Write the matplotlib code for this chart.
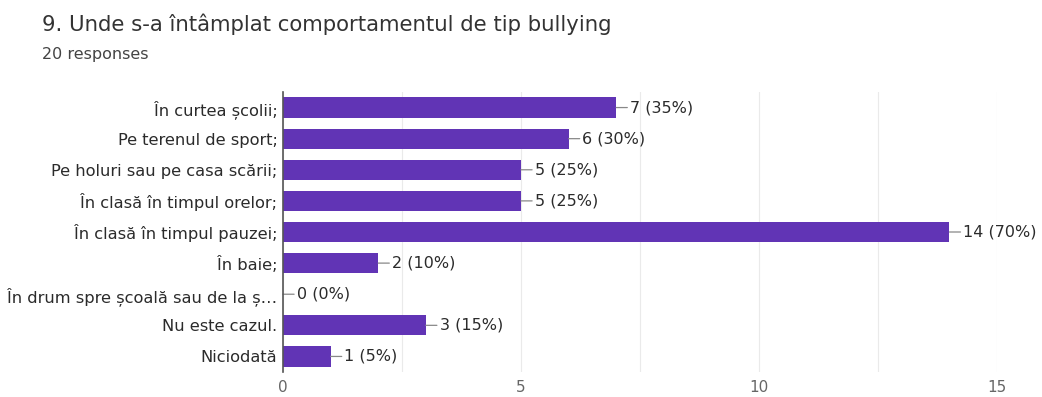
import matplotlib.pyplot as plt
from matplotlib.ticker import MultipleLocator

categories = [
    "În curtea școlii;",
    "Pe terenul de sport;",
    "Pe holuri sau pe casa scării;",
    "În clasă în timpul orelor;",
    "În clasă în timpul pauzei;",
    "În baie;",
    "În drum spre școală sau de la ș…",
    "Nu este cazul.",
    "Niciodată",
]
counts = [7, 6, 5, 5, 14, 2, 0, 3, 1]
percents = [35, 30, 25, 25, 70, 10, 0, 15, 5]
xticks = [0, 5, 10, 15]

plt.rcParams['font.family'] = ['DejaVu Sans']

fig = plt.figure(figsize=(10.42, 3.97), dpi=100)
ax = fig.add_axes([283 / 1042, 1 - 372 / 397, (997 - 283) / 1042, (372 - 92) / 397])

bar_color = '#6134b5'
ypos = list(range(len(categories)))
ax.barh(ypos, counts, height=0.65, color=bar_color, zorder=3)
ax.set_ylim(len(categories) - 0.5, -0.5)
ax.set_xlim(0, 15)

ax.set_yticks(ypos)
ax.set_yticklabels(categories, fontsize=11.7, color='#2b2b2b')
ax.set_xticks(xticks)
ax.set_xticklabels([str(t) for t in xticks], fontsize=11, color='#666666')
ax.xaxis.set_minor_locator(MultipleLocator(2.5))
ax.tick_params(axis='y', length=0, pad=4)
ax.tick_params(axis='x', which='both', length=0, pad=5.5)
ax.grid(axis='x', which='both', color='#eaeaea', linewidth=0.8, zorder=0)

for s in ['top', 'right', 'bottom']:
    ax.spines[s].set_visible(False)
ax.spines['left'].set_color('#555555')
ax.spines['left'].set_linewidth(1.2)
ax.spines['left'].set_zorder(4)

# value labels with a short leader line
for y, c, p in zip(ypos, counts, percents):
    ax.annotate(f"{c} ({p}%)", xy=(c, y), xytext=(10, 0), textcoords='offset points',
                va='center', ha='left', fontsize=11.5, color='#2b2b2b',
                arrowprops=dict(arrowstyle='-', color='#888888', lw=0.9,
                                shrinkA=0, shrinkB=0))

fig.text(42 / 1042, 1 - 24 / 397, "9. Unde s-a întâmplat comportamentul de tip bullying",
         fontsize=15.3, color='#333333', va='center')
fig.text(42 / 1042, 1 - 54 / 397, "20 responses", fontsize=11.5, color='#444444',
         va='center')

fig.savefig('out.png', dpi=100, facecolor='white')
